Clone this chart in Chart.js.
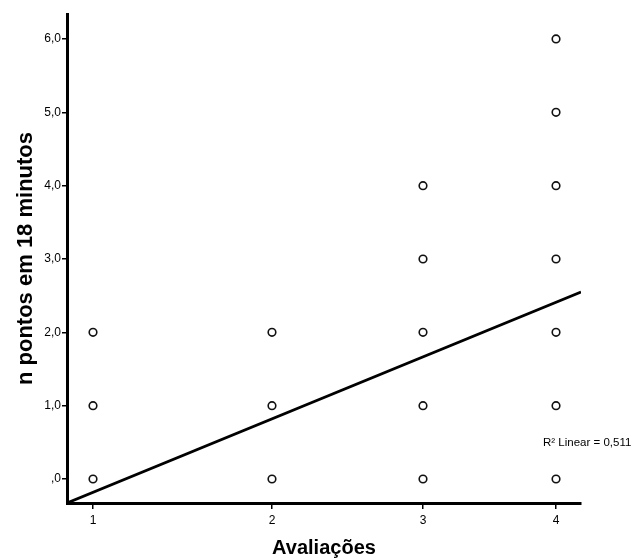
<!DOCTYPE html>
<html>
<head>
<meta charset="utf-8">
<script src="https://cdn.jsdelivr.net/npm/chart.js@4/dist/chart.umd.min.js"></script>
<style>
  html, body { margin: 0; padding: 0; background: #fff; }
  #wrap { width: 635px; height: 560px; position: relative; }
</style>
</head>
<body>
<div id="wrap"><canvas id="scatterChart"></canvas></div>
<script>
// Observations (x = avaliação, y = pontos em 18 minutos)
const avaliacoes = [1, 1, 1, 2, 2, 2, 3, 3, 3, 3, 3, 4, 4, 4, 4, 4, 4, 4];
const pontos     = [0, 1, 2, 0, 1, 2, 0, 1, 2, 3, 4, 0, 1, 2, 3, 4, 5, 6];

// Fit line endpoints
const fitX = [0.85, 4.2];
const fitY = [-0.327, 2.55];

// Axis ranges and ticks
const xRange = [0.85, 4.2];
const yRange = [-0.327, 6.34];
const xTicks = [1, 2, 3, 4];
const yTicks = [0, 1, 2, 3, 4, 5, 6];

const r2Label = "R\u00B2 Linear = 0,511";

// The x axis of the original is not evenly spaced: value -> share of the axis length
const xWarpValues = [0.85, 1, 2, 3, 4, 4.2];
const xWarpShares = [0, 0.0506, 0.3988, 0.6926, 0.9514, 1];

// Linear scale with a piecewise mapping so the ticks sit where the original has them
class WarpScale extends Chart.LinearScale {
    _interp(v, from, to) {
        for (let i = 1; i < from.length; i++) {
            if (v <= from[i] || i === from.length - 1) {
                const t = (v - from[i - 1]) / (from[i] - from[i - 1]);
                return to[i - 1] + t * (to[i] - to[i - 1]);
            }
        }
        return to[0];
    }
    getPixelForValue(value) {
        return this.getPixelForDecimal(this._interp(value, xWarpValues, xWarpShares));
    }
    getValueForPixel(pixel) {
        return this._interp(this.getDecimalForPixel(pixel), xWarpShares, xWarpValues);
    }
}
WarpScale.id = "warp";
WarpScale.defaults = Chart.LinearScale.defaults;
Chart.register(WarpScale);

document.addEventListener("DOMContentLoaded", function () {
    const FONT = "'Liberation Sans', Arial, sans-serif";

    // Draws the R² note next to the fit line
    const r2Plugin = {
        id: "r2Note",
        afterDatasetsDraw(chart) {
            const ctx = chart.ctx;
            const xScale = chart.scales.x;
            const yScale = chart.scales.y;
            ctx.save();
            ctx.font = "11.5px " + FONT;
            ctx.fillStyle = "#000";
            ctx.textAlign = "left";
            ctx.textBaseline = "middle";
            ctx.fillText(r2Label, xScale.getPixelForValue(4) - 13, yScale.getPixelForValue(0.5));
            ctx.restore();
        }
    };

    const points = avaliacoes.map((x, i) => ({ x: x, y: pontos[i] }));
    const fitLine = fitX.map((x, i) => ({ x: x, y: fitY[i] }));

    const config = {
        type: "scatter",
        data: {
            datasets: [{
                    label: "pontos",
                    data: points,
                    pointStyle: "circle",
                    pointRadius: 3.8,
                    pointBorderWidth: 1.6,
                    pointBorderColor: "#111",
                    pointBackgroundColor: "#fff",
                    order: 1
                },
                {
                    label: "Linear",
                    data: fitLine,
                    showLine: true,
                    borderColor: "#000",
                    borderWidth: 2.8,
                    pointRadius: 0,
                    order: 0
                }
            ]
        },
        options: {
            responsive: true,
            maintainAspectRatio: false,
            animation: false,
            layout: {
                padding: { top: 14, right: 54, left: 0, bottom: 0 }
            },
            plugins: {
                legend: { display: false },
                tooltip: { enabled: false }
            },
            scales: {
                x: {
                    type: "warp",
                    min: xRange[0],
                    max: xRange[1],
                    afterBuildTicks: function (scale) {
                        scale.ticks = xTicks.map(v => ({ value: v }));
                    },
                    afterFit: function (scale) {
                        scale.height = 57;
                    },
                    ticks: {
                        color: "#000",
                        padding: 4,
                        font: { size: 12, family: FONT },
                        callback: v => String(v)
                    },
                    grid: {
                        display: true,
                        drawOnChartArea: false,
                        drawTicks: true,
                        tickLength: 6,
                        color: "#000",
                        lineWidth: 1.5
                    },
                    border: { display: true, color: "#000", width: 3 },
                    title: {
                        display: true,
                        text: "Avaliações",
                        color: "#000",
                        padding: { top: 0, bottom: 0 },
                        font: { size: 20, weight: "bold", family: FONT }
                    }
                },
                y: {
                    type: "linear",
                    min: yRange[0],
                    max: yRange[1],
                    afterBuildTicks: function (scale) {
                        scale.ticks = yTicks.map(v => ({ value: v }));
                    },
                    afterFit: function (scale) {
                        scale.width = 67;
                    },
                    ticks: {
                        color: "#000",
                        padding: 1,
                        font: { size: 12, family: FONT },
                        callback: v => v === 0 ? ",0" : v.toFixed(1).replace(".", ",")
                    },
                    grid: {
                        display: true,
                        drawOnChartArea: false,
                        drawTicks: true,
                        tickLength: 5,
                        color: "#000",
                        lineWidth: 1.5
                    },
                    border: { display: true, color: "#000", width: 3 },
                    title: {
                        display: true,
                        text: "n pontos em 18 minutos",
                        color: "#000",
                        padding: { top: 13, bottom: 0 },
                        font: { size: 22, weight: "bold", family: FONT }
                    }
                }
            }
        },
        plugins: [r2Plugin]
    };

    new Chart(document.getElementById("scatterChart"), config);
});
</script>
</body>
</html>
